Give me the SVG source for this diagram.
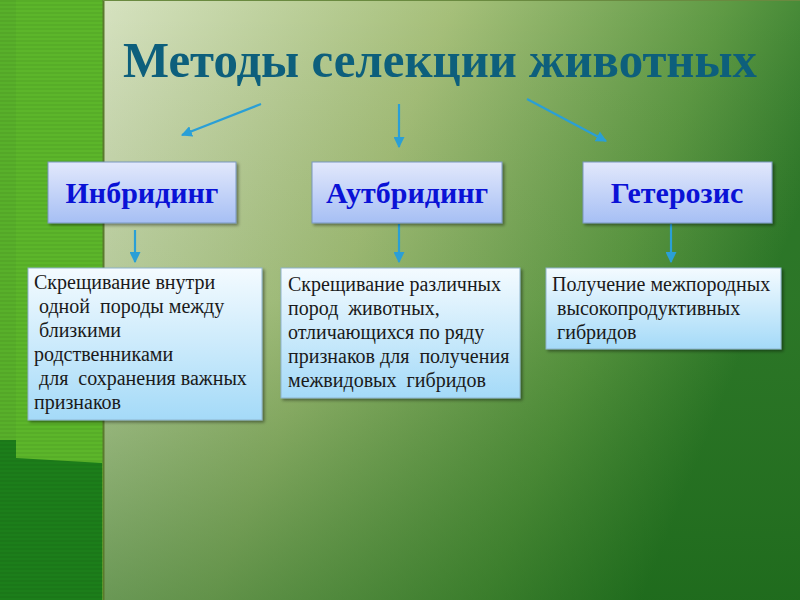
<svg xmlns="http://www.w3.org/2000/svg" width="800" height="600" viewBox="0 0 800 600">
<defs>
<linearGradient id="panel" x1="0" y1="0" x2="1" y2="0.35">
<stop offset="0" stop-color="#d6e2c0"/>
<stop offset="0.45" stop-color="#a6c07a"/>
<stop offset="0.8" stop-color="#5e9a44"/>
<stop offset="1" stop-color="#2e7a2a"/>
</linearGradient>
<linearGradient id="panelShade" x1="0" y1="0" x2="0" y2="1">
<stop offset="0" stop-color="#000" stop-opacity="0"/>
<stop offset="0.5" stop-color="#1a5a10" stop-opacity="0.1"/>
<stop offset="1" stop-color="#0e5a0e" stop-opacity="0.45"/>
</linearGradient>
<linearGradient id="head" x1="0" y1="0" x2="0" y2="1">
<stop offset="0" stop-color="#e2e8fc"/>
<stop offset="1" stop-color="#a6bff4"/>
</linearGradient>
<linearGradient id="desc" x1="0" y1="0" x2="0" y2="1">
<stop offset="0" stop-color="#f4fbff"/>
<stop offset="1" stop-color="#a4daf8"/>
</linearGradient>
<pattern id="stripes" width="4" height="4" patternUnits="userSpaceOnUse">
<rect width="4" height="2" fill="#000" fill-opacity="0.05"/>
</pattern>
<filter id="sh" x="-10%" y="-10%" width="125%" height="130%">
<feDropShadow dx="2" dy="2" stdDeviation="1.5" flood-color="#000" flood-opacity="0.4"/>
</filter>
<marker id="ah" viewBox="0 0 10 10" refX="9" refY="5" markerWidth="5" markerHeight="5" orient="auto" markerUnits="strokeWidth">
<path d="M0,0 L10,5 L0,10 z" fill="#2a9fd6"/>
</marker>
</defs>
<style>
.title{font-family:"Liberation Serif",serif;font-weight:bold;font-size:51px;fill:#0d5f7c}
.hbox{fill:url(#head);stroke:#7a98c0;stroke-width:1;filter:url(#sh)}
.htxt{font-family:"Liberation Serif",serif;font-weight:bold;font-size:30px;fill:#0a12d6;text-anchor:middle}
.dbox{fill:url(#desc);stroke:#8fb4cc;stroke-width:1;filter:url(#sh)}
.dtxt{font-family:"Liberation Serif",serif;font-size:20px;fill:#1a1a1a}
.arr{stroke:#2a9fd6;stroke-width:2.2;fill:none;marker-end:url(#ah)}
</style>
<!-- background -->
<rect x="0" y="0" width="104" height="600" fill="#5cb62a"/>
<polygon points="0,0 16,0 16,458 102,463 102,600 0,600" fill="#1c7e1a"/>
<rect x="0" y="0" width="16" height="440" fill="#58b02a"/>
<rect x="0" y="0" width="104" height="600" fill="url(#stripes)"/>
<rect x="103" y="0" width="697" height="600" fill="url(#panel)"/>
<rect x="103" y="0" width="697" height="600" fill="url(#panelShade)"/>
<line x1="103.5" y1="0" x2="103.5" y2="600" stroke="#5a7a2e" stroke-width="2"/>
<line x1="103" y1="0.5" x2="800" y2="0.5" stroke="#6a8a40" stroke-width="1"/>

<text class="title" x="440" y="77" text-anchor="middle" textLength="634" lengthAdjust="spacingAndGlyphs">Методы селекции животных</text>

<g id="connectors">
<line class="arr" x1="261" y1="104" x2="182" y2="135"/>
<line class="arr" x1="399" y1="104" x2="399" y2="147"/>
<line class="arr" x1="527" y1="99" x2="606" y2="141"/>
<line class="arr" x1="135" y1="230" x2="135" y2="262"/>
<line class="arr" x1="399" y1="224" x2="399" y2="262"/>
<line class="arr" x1="671" y1="224" x2="671" y2="262"/>
</g>

<g id="inbreeding">
<rect class="hbox" x="48" y="162" width="188" height="61"/>
<text class="htxt" x="142" y="203">Инбридинг</text>
</g>
<g id="outbreeding">
<rect class="hbox" x="312" y="162" width="190" height="61"/>
<text class="htxt" x="407" y="203">Аутбридинг</text>
</g>
<g id="heterosis">
<rect class="hbox" x="583" y="162" width="189" height="61"/>
<text class="htxt" x="677" y="203">Гетерозис</text>
</g>

<g id="inbreeding-desc">
<rect class="dbox" x="28" y="268" width="234" height="152"/>
<text class="dtxt" xml:space="preserve"><tspan x="34" y="289">Скрещивание внутри</tspan><tspan x="34" y="313"> одной  породы между</tspan><tspan x="34" y="337"> близкими</tspan><tspan x="34" y="361">родственниками</tspan><tspan x="34" y="385"> для  сохранения важных</tspan><tspan x="34" y="409">признаков</tspan></text>
</g>
<g id="outbreeding-desc">
<rect class="dbox" x="281" y="268" width="239" height="130"/>
<text class="dtxt" xml:space="preserve"><tspan x="288" y="291">Скрещивание различных</tspan><tspan x="288" y="315">пород  животных,</tspan><tspan x="288" y="339">отличающихся по ряду</tspan><tspan x="288" y="363">признаков для  получения</tspan><tspan x="288" y="387">межвидовых  гибридов</tspan></text>
</g>
<g id="heterosis-desc">
<rect class="dbox" x="546" y="268" width="235" height="81"/>
<text class="dtxt" xml:space="preserve"><tspan x="552" y="291">Получение межпородных</tspan><tspan x="552" y="315"> высокопродуктивных</tspan><tspan x="552" y="339"> гибридов</tspan></text>
</g>
</svg>
